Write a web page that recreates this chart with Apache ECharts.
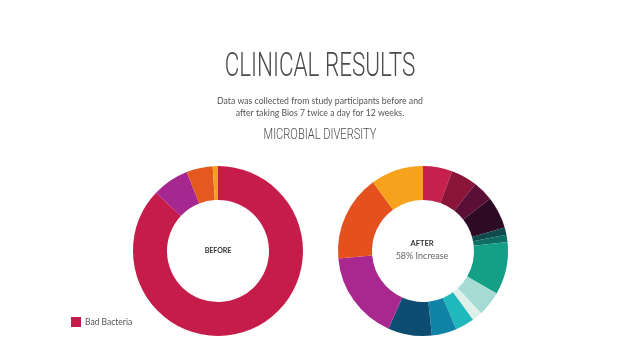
<!DOCTYPE html>
<html><head><meta charset="utf-8">
<script src="https://cdn.jsdelivr.net/npm/echarts@6/dist/echarts.min.js"></script>
<style>html,body{margin:0;padding:0;background:#fff}#c{width:640px;height:359px}</style>
</head><body><div id="c"></div>
<script>
// BEFORE donut (share of composition, %)
const beforeNames = ['Bad Bacteria', 'Group B', 'Group C', 'Group D'];
const beforeValues = [87, 7, 5, 1];
const beforeColors = ['#c61c4a', '#a5278f', '#e5581f', '#f6a11c'];

// AFTER donut (degrees of arc, clockwise from top)
const afterNames = ['A1','A2','A3','A4','A5','A6','A7','A8','A9','A10','A11','A12','A13','A14','A15'];
const afterValues = [20, 18, 14, 22, 5, 5, 36, 17, 7, 13, 17, 30, 61, 59, 36];
const afterColors = ['#c6204c','#8a1538','#5c0f36','#2e0b25','#0f4a4d','#0e6d64','#14a086','#a6dbd3','#dff0ea','#1fb8bd','#0f84a6','#0d4d72','#a8288f','#e4511f','#f6a21d'];

const titleText = 'CLINICAL RESULTS';
const subText1 = 'Data was collected from study participants before and';
const subText2 = 'after taking Bios 7 twice a day for 12 weeks.';
const sectionText = 'MICROBIAL DIVERSITY';

const chart = echarts.init(document.getElementById('c'));
const mk = (names, vals, cols) => names.map((n, i) => ({name: n, value: vals[i], itemStyle: {color: cols[i]}}));

chart.setOption({
  animation: false,
  backgroundColor: '#fff',
  legend: {
    data: ['Bad Bacteria'], left: 66, top: 312, itemWidth: 10, itemHeight: 10, itemGap: 4,
    icon: 'rect', selectedMode: false,
    textStyle: {fontFamily: 'Lato', fontSize: 8.5, color: '#555', padding: [0, 0, 0, -1]}
  },
  graphic: [
    {type: 'text', x: 320, y: 67, scaleX: 0.66, style: {text: titleText, fontFamily: 'Roboto', fontWeight: 300, fontSize: 34, fill: '#4a4a4a', align: 'center', verticalAlign: 'middle'}},
    {type: 'text', x: 320, y: 101, style: {text: subText1, fontFamily: 'Lato', fontSize: 8.7, fill: '#555', align: 'center', verticalAlign: 'middle'}},
    {type: 'text', x: 320, y: 113, style: {text: subText2, fontFamily: 'Lato', fontSize: 8.7, fill: '#555', align: 'center', verticalAlign: 'middle'}},
    {type: 'text', x: 320, y: 135, scaleX: 0.74, style: {text: sectionText, fontFamily: 'Roboto', fontWeight: 300, fontSize: 15, fill: '#4a4a4a', align: 'center', verticalAlign: 'middle'}},
    {type: 'text', x: 218, y: 251, style: {text: 'BEFORE', fontFamily: 'Lato', fontWeight: 'bold', fontSize: 7, fill: '#333', align: 'center', verticalAlign: 'middle'}},
    {type: 'text', x: 422, y: 244, style: {text: 'AFTER', fontFamily: 'Lato', fontWeight: 'bold', fontSize: 7.5, fill: '#333', align: 'center', verticalAlign: 'middle'}},
    {type: 'text', x: 422, y: 256, style: {text: '58% Increase', fontFamily: 'Lato', fontSize: 9, fill: '#666', align: 'center', verticalAlign: 'middle'}}
  ],
  series: [
    {type: 'pie', center: [218, 251], radius: [51, 85], startAngle: 90, label: {show: false}, labelLine: {show: false}, silent: true,
     data: mk(beforeNames, beforeValues, beforeColors)},
    {type: 'pie', center: [423, 251], radius: [51, 85], startAngle: 90, label: {show: false}, labelLine: {show: false}, silent: true,
     data: mk(afterNames, afterValues, afterColors)}
  ]
});
</script></body></html>
